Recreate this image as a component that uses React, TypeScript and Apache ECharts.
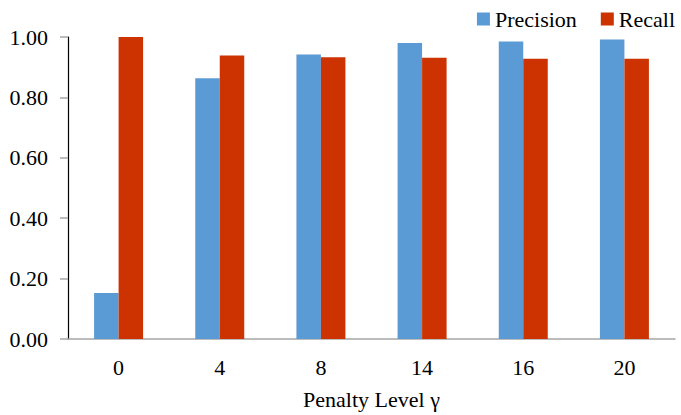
import React, { useEffect, useRef } from "react";
import * as echarts from "echarts";

const categories = ["0", "4", "8", "14", "16", "20"];
const precision = [0.152, 0.863, 0.942, 0.98, 0.985, 0.992];
const recall = [1.0, 0.939, 0.933, 0.931, 0.928, 0.928];
const seriesNames = ["Precision", "Recall"];
const xAxisTitle = "Penalty Level γ";

const FONT = '"Liberation Serif", "Times New Roman", serif';

export default function App() {
  const ref = useRef<HTMLDivElement>(null);
  useEffect(() => {
    if (!ref.current) return;
    const chart = echarts.init(ref.current, null, { renderer: "svg" });
    chart.setOption({
      animation: false,
      textStyle: { fontFamily: FONT, fontSize: 22 },
      legend: {
        data: seriesNames,
        right: 1,
        top: 3,
        icon: "rect",
        itemWidth: 13,
        itemHeight: 13,
        itemGap: 24,
        textStyle: { fontFamily: FONT, fontSize: 22, color: "#000" },
      },
      grid: { left: 68, right: 6, top: 37, bottom: 73, containLabel: false },
      xAxis: {
        type: "category",
        data: categories,
        name: xAxisTitle,
        nameLocation: "middle",
        nameGap: 49,
        nameTextStyle: { fontFamily: FONT, fontSize: 22, color: "#000" },
        axisLine: { show: true, lineStyle: { color: "#a6a6a6", width: 1.5 } },
        axisTick: { show: false },
        axisLabel: { fontFamily: FONT, fontSize: 22, color: "#000", margin: 17 },
      },
      yAxis: {
        type: "value",
        min: 0,
        max: 1,
        interval: 0.2,
        splitLine: { show: false },
        axisLine: { show: true, lineStyle: { color: "#000", width: 1.2 } },
        axisTick: { show: true, length: 8, lineStyle: { color: "#a6a6a6", width: 1.5 } },
        axisLabel: {
          fontFamily: FONT,
          fontSize: 22,
          color: "#000",
          margin: 20,
          formatter: (v: number) => v.toFixed(2),
        },
      },
      series: [
        {
          name: seriesNames[0],
          type: "bar",
          data: precision,
          barWidth: 24.5,
          barGap: "0%",
          itemStyle: { color: "#5B9BD5" },
        },
        {
          name: seriesNames[1],
          type: "bar",
          data: recall,
          barWidth: 24.5,
          barGap: "0%",
          itemStyle: { color: "#CC3300" },
        },
      ],
    });
    return () => chart.dispose();
  }, []);
  return (
    <div
      ref={ref}
      style={{ position: "fixed", left: 0, top: 0, width: 681, height: 415, background: "#fff" }}
    />
  );
}
